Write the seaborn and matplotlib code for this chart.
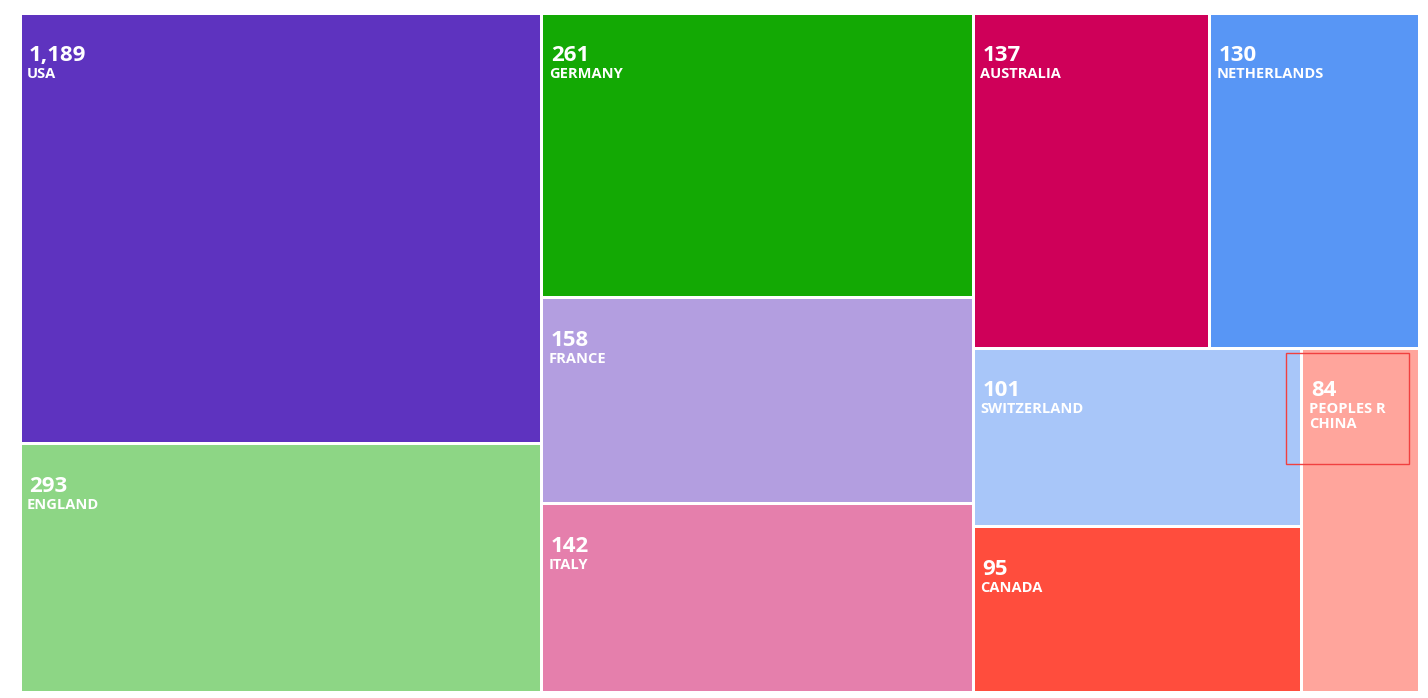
import matplotlib
matplotlib.use("Agg")
import matplotlib.pyplot as plt
from matplotlib.patches import Rectangle
import seaborn as sns

sns.set_theme(style="white")
plt.rcParams["font.family"] = ["Open Sans", "DejaVu Sans"]

# --- data ---
countries = ["USA", "ENGLAND", "GERMANY", "FRANCE", "ITALY", "AUSTRALIA",
             "NETHERLANDS", "SWITZERLAND", "CANADA", "PEOPLES R\nCHINA"]
counts = [1189, 293, 261, 158, 142, 137, 130, 101, 95, 84]
# tile weights (area)
weights = [222560, 128440, 121690, 88150, 80410, 78490, 69806, 58028, 53790, 40248]
colors = ["#5e33bf", "#8dd685", "#13a904", "#b39ee0", "#e57fac", "#cf0059",
          "#5896f5", "#a8c6f9", "#ff4d3d", "#ffa59c"]

# nesting of the tiles: columns / rows alternate
tree = [[0, 1], [2, 3, 4], [[5, 6], [[7, 8], 9]]]

W, H = 1400, 679


def total(node):
    if isinstance(node, int):
        return weights[node]
    return sum(total(c) for c in node)


def layout(node, x, y, w, h, horizontal, out):
    if isinstance(node, int):
        out[node] = (x, y, w, h)
        return
    s = total(node)
    pos = 0.0
    for c in node:
        frac = total(c) / s
        if horizontal:
            layout(c, x + pos * w, y, w * frac, h, False, out)
        else:
            layout(c, x, y + pos * h, w, h * frac, True, out)
        pos += frac


rects = {}
layout(tree, 0, 0, W, H, True, rects)

fig = plt.figure(figsize=(14.28, 6.98), dpi=100)
ax = fig.add_axes([20 / 1428, 6 / 698, 1400 / 1428, 679 / 698])
ax.set_xlim(0, W)
ax.set_ylim(H, 0)
ax.axis("off")

gap = 1.5
for i, (x, y, w, h) in rects.items():
    ax.add_patch(Rectangle((x + gap, y + gap), w - 2 * gap, h - 2 * gap,
                           facecolor=colors[i], edgecolor="none"))
    ax.text(x + 9, y + 53, f"{counts[i]:,}", color="white", fontsize=16,
            fontweight="bold", va="bottom", ha="left")
    ax.text(x + 7, y + 54, countries[i], color="white", fontsize=10.5,
            fontweight="bold", va="top", ha="left", linespacing=1.1)

# highlight box around the China label
x, y, w, h = rects[9]
ax.add_patch(Rectangle((x - 16, y + 5), 123, 111, facecolor="none",
                       edgecolor="#f04040", linewidth=1))

fig.savefig("out.png", dpi=100)
